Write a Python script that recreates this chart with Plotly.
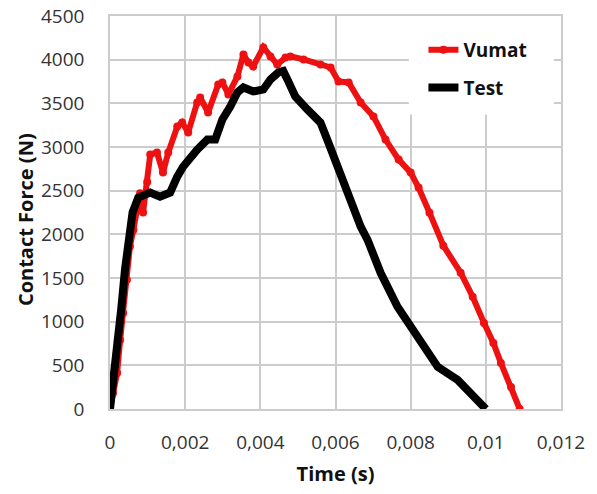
import plotly.graph_objects as go

# ---- data ----
vumat_t = [0, 0.00008, 0.00019, 0.00027, 0.00035, 0.00045, 0.00053, 0.00062, 0.00072, 0.0008,
           0.00088, 0.00099, 0.00107, 0.00125, 0.00141, 0.00155, 0.00179, 0.00192, 0.00208, 0.00232,
           0.0024, 0.00261, 0.00288, 0.00299, 0.00315, 0.00339, 0.00355, 0.00368, 0.00381, 0.00408,
           0.00427, 0.00445, 0.00467, 0.0048, 0.00515, 0.0056, 0.00587, 0.00608, 0.00635, 0.00667,
           0.00701, 0.00733, 0.00768, 0.008, 0.00821, 0.0085, 0.00887, 0.00933, 0.00965, 0.00995,
           0.0102, 0.0104, 0.01067, 0.0109]
vumat_f = [0, 184, 413, 790, 1100, 1480, 1860, 2050, 2280, 2470,
           2250, 2600, 2913, 2936, 2707, 2936, 3235, 3280, 3166, 3510,
           3567, 3395, 3716, 3739, 3602, 3808, 4060, 3968, 3923, 4140,
           4037, 3945, 4025, 4037, 4003, 3945, 3911, 3750, 3739, 3510,
           3350, 3085, 2856, 2707, 2535, 2248, 1870, 1560, 1285, 986,
           757, 528, 252, 0]

test_t = [0, 0.0001, 0.0002, 0.0003, 0.0004, 0.0005, 0.0006, 0.00075, 0.00107, 0.00133,
          0.0016, 0.00179, 0.00195, 0.00232, 0.00259, 0.0028, 0.00299, 0.0032, 0.00339, 0.00355,
          0.00381, 0.00408, 0.00427, 0.00448, 0.00461, 0.00472, 0.00493, 0.00525, 0.0056, 0.00581,
          0.00605, 0.00632, 0.00667, 0.00685, 0.0072, 0.00765, 0.00819, 0.00872, 0.00925, 0.00968,
          0.01]
test_f = [0, 350, 750, 1150, 1600, 1950, 2250, 2420, 2478, 2432,
          2478, 2661, 2776, 2970, 3085, 3085, 3315, 3464, 3625, 3682,
          3636, 3659, 3774, 3854, 3870, 3774, 3579, 3430, 3280, 3051,
          2776, 2500, 2088, 1940, 1560, 1170, 826, 482, 333, 138,
          0]

x_ticks = [0, 0.002, 0.004, 0.006, 0.008, 0.01, 0.012]
x_labels = ["0", "0,002", "0,004", "0,006", "0,008", "0,01", "0,012"]
y_ticks = [0, 500, 1000, 1500, 2000, 2500, 3000, 3500, 4000, 4500]
y_labels = [str(v) for v in y_ticks]

FONT = "Open Sans, DejaVu Sans, sans-serif"
GRID = "#cccccc"
TICKCOL = "#333333"

fig = go.Figure()
fig.add_trace(go.Scatter(
    x=vumat_t, y=vumat_f, name="Vumat", mode="lines+markers",
    line=dict(color="#ee1111", width=6),
    marker=dict(color="#ee1111", size=8, symbol="circle"),
    legendgroup="a",
))
fig.add_trace(go.Scatter(
    x=test_t, y=test_f, name="Test", mode="lines",
    line=dict(color="#000000", width=8),
    legendgroup="b",
))

# white area behind the legend (hides the gridlines there)
fig.add_shape(type="rect", xref="x", yref="y",
              x0=0.00795, x1=0.01181, y0=3372, y1=4500,
              fillcolor="white", line=dict(width=0), layer="between")

# y-axis title
fig.add_annotation(
    text="Contact Force (N)", xref="paper", yref="paper",
    x=-0.186, y=0.481, xanchor="center", yanchor="middle",
    textangle=-90, showarrow=False,
    font=dict(family=FONT, size=20, color="#111111", weight="bold"),
)

fig.update_layout(
    width=597, height=494,
    margin=dict(l=110, r=36, t=16, b=85, autoexpand=False),
    paper_bgcolor="white", plot_bgcolor="white",
    font=dict(family=FONT, color="#222222", size=17),
    showlegend=True,
    legend=dict(
        x=0.695, y=0.962, xanchor="left", yanchor="top",
        bgcolor="rgba(0,0,0,0)", borderwidth=0,
        font=dict(family=FONT, size=19, color="#111111", weight="bold"),
        traceorder="grouped", tracegroupgap=10,
    ),
    xaxis=dict(
        range=[0, 0.012], tickvals=x_ticks, ticktext=x_labels,
        showgrid=True, gridcolor=GRID, gridwidth=1.5, automargin=False,
        zeroline=False, showline=True, linecolor=GRID, linewidth=1.5, mirror=True,
        ticks="", ticklabelstandoff=15,
        tickfont=dict(family=FONT, size=19, color=TICKCOL),
        title=dict(text="Time (s)", font=dict(family=FONT, size=20, color="#111111", weight="bold"), standoff=13),
    ),
    yaxis=dict(
        range=[0, 4500], tickvals=y_ticks, ticktext=y_labels,
        showgrid=True, gridcolor=GRID, gridwidth=1.5, automargin=False,
        zeroline=False, showline=True, linecolor=GRID, linewidth=1.5, mirror=True,
        ticks="", ticklabelstandoff=20,
        tickfont=dict(family=FONT, size=19, color=TICKCOL),
    ),
)

fig.write_html("out.html")
